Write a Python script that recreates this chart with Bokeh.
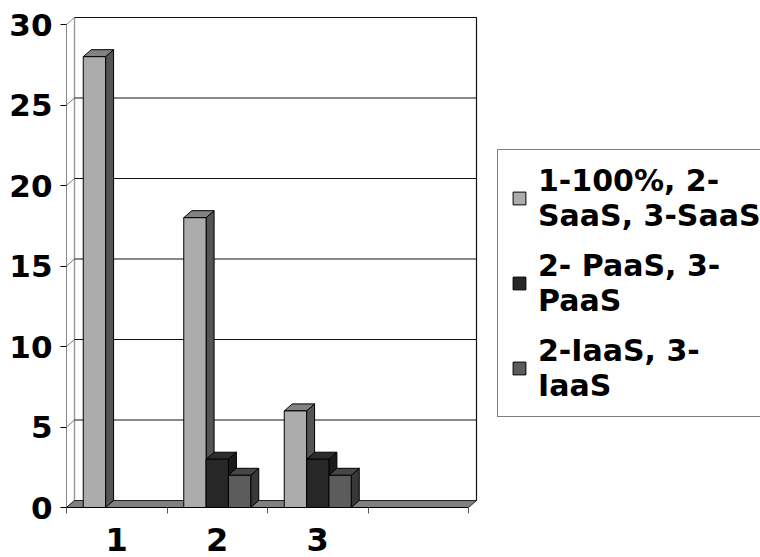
from bokeh.plotting import figure
from bokeh.models import Range1d, FixedTicker, Legend, LegendItem, ColumnDataSource
from bokeh.embed import file_html
from bokeh.resources import INLINE

# ---- data ----
categories = ["1", "2", "3", ""]
series_labels = ["1-100%, 2-\nSaaS, 3-SaaS", "2- PaaS, 3-\nPaaS", "2-IaaS, 3-\nIaaS"]
saas = [28, 18, 6, None]
paas = [0, 3, 3, None]
iaas = [0, 2, 2, None]
y_ticks = [0, 5, 10, 15, 20, 25, 30]

series_values = [saas, paas, iaas]
front_colors = ["#acacac", "#272727", "#5c5c5c"]
side_colors = ["#545454", "#1b1b1b", "#383838"]
top_colors = ["#828282", "#2c2c2c", "#474747"]

# ---- geometry (pixels per data unit, 3D depth) ----
PX_X = 100.5
PX_Y = 16.1
FRAME_W = 694
FRAME_H = 497
DX = 8 / PX_X
DY = 7 / PX_Y
N_CAT = len(categories)
Y_MAX = y_ticks[-1]
BAR_W = 1 / 4.5
GAP = 0.75 * BAR_W

FONT = "DejaVu Sans"

p = figure(width=760, height=557,
           x_range=Range1d(0, FRAME_W / PX_X), y_range=Range1d(0, FRAME_H / PX_Y),
           min_border_left=66, min_border_right=0, min_border_top=10, min_border_bottom=50,
           output_backend="svg", toolbar_location=None)
p.outline_line_color = None
p.grid.visible = False
p.background_fill_color = "white"
p.border_fill_color = "white"

# ---- walls and floor ----
p.patch([0, DX, DX, 0], [0, DY, Y_MAX + DY, Y_MAX], fill_color="white",
        line_color="#888888", line_width=1)
p.quad(left=[DX], right=[N_CAT + DX], bottom=[DY], top=[Y_MAX + DY],
       fill_color="white", line_color="#111111", line_width=1.2)
p.segment(x0=[DX], y0=[DY], x1=[DX], y1=[Y_MAX + DY], line_color="#999999", line_width=1)

inner = y_ticks[1:-1]
p.segment(x0=[0] * len(inner), y0=inner, x1=[DX] * len(inner), y1=[t + DY for t in inner],
          line_color="#777777", line_width=1)
p.segment(x0=[DX] * len(inner), y0=[t + DY for t in inner],
          x1=[N_CAT + DX] * len(inner), y1=[t + DY for t in inner],
          line_color="#111111", line_width=1.2)

p.patch([0, N_CAT, N_CAT + DX, DX], [0, 0, DY, DY], fill_color="#808080",
        line_color="#222222", line_width=1)

# ---- 3D columns ----
sides, tops, fronts = [], [], []
for j, vals in enumerate(series_values):
    sx, sy, tx, ty, fl, fr, fb, ft = [], [], [], [], [], [], [], []
    for i, v in enumerate(vals):
        if v is None or v <= 0:
            continue
        x0 = i + GAP + j * BAR_W
        x1 = x0 + BAR_W
        sx.append([x1, x1 + DX, x1 + DX, x1])
        sy.append([0, DY, v + DY, v])
        tx.append([x0, x0 + DX, x1 + DX, x1])
        ty.append([v, v + DY, v + DY, v])
        fl.append(x0); fr.append(x1); fb.append(0); ft.append(v)
    sides.append(dict(xs=sx, ys=sy))
    tops.append(dict(xs=tx, ys=ty))
    fronts.append(dict(left=fl, right=fr, bottom=fb, top=ft))

for j in range(3):
    p.patches(xs="xs", ys="ys", source=ColumnDataSource(sides[j]),
              fill_color=side_colors[j], line_color="black", line_width=1)
for j in range(3):
    p.patches(xs="xs", ys="ys", source=ColumnDataSource(tops[j]),
              fill_color=top_colors[j], line_color="black", line_width=1)
front_renderers = []
for j in range(3):
    r = p.quad(left="left", right="right", bottom="bottom", top="top",
               source=ColumnDataSource(fronts[j]),
               fill_color=front_colors[j], line_color="black", line_width=1)
    front_renderers.append(r)

# ---- axes ----
yax = p.yaxis[0]
yax.ticker = FixedTicker(ticks=y_ticks)
yax.bounds = (0, Y_MAX)
yax.axis_line_color = "#888888"
yax.major_tick_out = 6
yax.major_tick_in = 0
yax.minor_tick_out = 0
yax.minor_tick_in = 0
yax.major_tick_line_color = "black"
yax.major_label_standoff = 8
yax.major_label_text_font = FONT
yax.major_label_text_font_style = "bold"
yax.major_label_text_font_size = "31px"
yax.major_label_text_color = "black"

centers = [i + 0.5 for i in range(N_CAT)]
xax = p.xaxis[0]
xax.ticker = FixedTicker(ticks=centers, minor_ticks=list(range(N_CAT + 1)))
xax.major_label_overrides = {c: lab for c, lab in zip(centers, categories)}
xax.bounds = (0, N_CAT)
xax.axis_line_color = "black"
xax.major_tick_out = 0
xax.major_tick_in = 0
xax.minor_tick_out = 6
xax.minor_tick_in = 0
xax.minor_tick_line_color = "#555555"
xax.major_label_standoff = 14
xax.major_label_text_font = FONT
xax.major_label_text_font_style = "bold"
xax.major_label_text_font_size = "32px"
xax.major_label_text_color = "black"

# ---- legend ----
legend = Legend(items=[LegendItem(label=lab, renderers=[r])
                       for lab, r in zip(series_labels, front_renderers)],
                location=(431, 90))
legend.border_line_color = "black"
legend.border_line_width = 1
legend.background_fill_color = "white"
legend.background_fill_alpha = 1
legend.label_text_font = FONT
legend.label_text_font_style = "bold"
legend.label_text_font_size = "30px"
legend.label_text_color = "black"
legend.label_text_line_height = 1.17
legend.glyph_width = 16
legend.glyph_height = 16
legend.label_standoff = 11
legend.padding = 13
legend.spacing = 15
legend.margin = 0
p.add_layout(legend)

open("out.html", "w").write(file_html(p, INLINE))
